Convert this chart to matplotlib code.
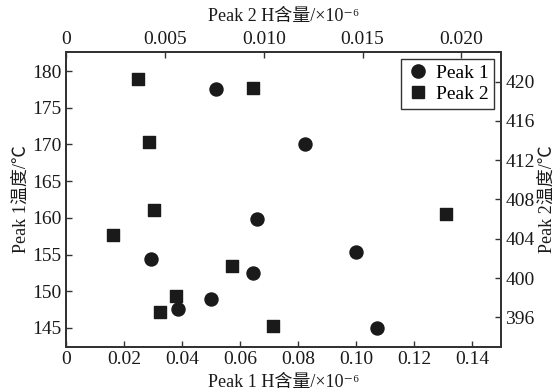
import matplotlib
matplotlib.use("Agg")
import matplotlib.pyplot as plt
import matplotlib.transforms as mtransforms
from matplotlib.lines import Line2D

fam = ['Liberation Serif', 'Noto Sans CJK SC', 'DejaVu Serif']
plt.rcParams['font.family'] = fam

# Peak 1: hydrogen content (bottom axis) vs. temperature (left axis)
peak1_h = [0.0516, 0.0823, 0.0660, 0.0294, 0.0645, 0.0499, 0.0386, 0.1001, 0.1074]
peak1_t = [177.6, 170.1, 159.9, 154.45, 152.45, 148.9, 147.6, 155.4, 145.05]

# Peak 2: hydrogen content (top axis) vs. temperature (right axis)
peak2_h = [0.00365, 0.00946, 0.00419, 0.00444, 0.00236, 0.0084, 0.00554, 0.00475, 0.01045, 0.0192]
peak2_t = [420.3, 419.3, 413.85, 406.9, 404.4, 401.2, 398.2, 396.6, 395.1, 406.5]

x1_ticks = [0, 0.02, 0.04, 0.06, 0.08, 0.10, 0.12, 0.14]
x1_labels = ['0', '0.02', '0.04', '0.06', '0.08', '0.10', '0.12', '0.14']
x2_ticks = [0, 0.005, 0.010, 0.015, 0.020]
x2_labels = ['0', '0.005', '0.010', '0.015', '0.020']
y1_ticks = [145, 150, 155, 160, 165, 170, 175, 180]
y2_ticks = [396, 400, 404, 408, 412, 416, 420]

ink = '#1a1a1a'
spine_c = '#333333'

fig = plt.figure(figsize=(5.58, 3.92), dpi=100)
ax1 = fig.add_axes([66 / 558, 1 - 347 / 392, (501 - 66) / 558, (347 - 52) / 392])
ax2 = ax1.twinx()
ax3 = ax1.twiny()

ax1.set_xlim(0, 0.15)
ax1.set_ylim(142.4, 182.6)
ax3.set_xlim(0, 0.022)
ax2.set_ylim(393, 423)

ax1.scatter(peak1_h, peak1_t, marker='o', s=88, color=ink, zorder=3)

# Peak 2 is placed with the top x scale and the right y scale
trans = mtransforms.blended_transform_factory(ax3.transData, ax2.transData)
ax1.scatter(peak2_h, peak2_t, marker='s', s=82, color=ink, transform=trans, zorder=3)

ax1.set_xticks(x1_ticks)
ax1.set_xticklabels(x1_labels)
ax1.set_yticks(y1_ticks)
ax3.set_xticks(x2_ticks)
ax3.set_xticklabels(x2_labels)
ax2.set_yticks(y2_ticks)

fs = 14
for ax in (ax1, ax2, ax3):
    for sp in ax.spines.values():
        sp.set_color(spine_c)
        sp.set_linewidth(1.2)
    ax.tick_params(direction='in', length=4, width=1, colors=spine_c,
                   labelcolor=ink, labelsize=fs, pad=3)

lfs = 13
ax1.set_xlabel('Peak 1 H含量/×10⁻⁶', fontsize=lfs, color=ink, labelpad=4)
ax3.set_xlabel('Peak 2 H含量/×10⁻⁶', fontsize=lfs, color=ink, labelpad=7)
ax1.set_ylabel('Peak 1温度/℃', fontsize=lfs, color=ink, labelpad=2)
ax2.set_ylabel('Peak 2温度/℃', fontsize=lfs, color=ink, labelpad=3)

handles = [
    Line2D([], [], marker='o', linestyle='none', color=ink, markersize=9.5, label='Peak 1'),
    Line2D([], [], marker='s', linestyle='none', color=ink, markersize=8.5, label='Peak 2'),
]
leg = ax1.legend(handles=handles, loc='upper right',
                 prop={'family': fam, 'size': 14}, frameon=True,
                 fancybox=False, edgecolor=spine_c, framealpha=1,
                 borderaxespad=0.35, handletextpad=0.3, labelspacing=0.15,
                 borderpad=0.3, handlelength=1.2)
leg.get_frame().set_linewidth(1.0)

fig.savefig('out.png', dpi=100)
